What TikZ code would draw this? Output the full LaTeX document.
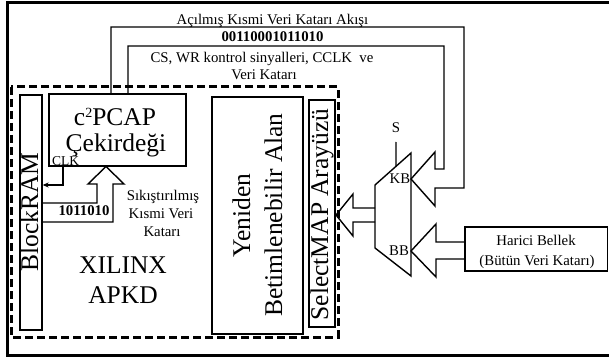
\documentclass[tikz,border=0pt]{standalone}
\usepackage{fontspec}
\setmainfont{Liberation Serif}
\usetikzlibrary{arrows.meta,calc}
\tikzset{
  big/.style={font=\fontsize{25.5}{30}\selectfont},
  small/.style={font=\fontsize{14.8}{18}\selectfont},
  wire/.style={line width=1.4pt, line join=miter},
  box/.style={draw, line width=1.3pt, inner sep=0pt},
}
\begin{document}
\begin{tikzpicture}[x=1pt,y=-1pt]
\useasboundingbox (0,0) rectangle (609,358);
% outer border
\draw[line width=3pt] (612,3) -- (7,3) -- (7,355) -- (612,355);
% dashed FPGA region
\draw[line width=3pt, dash pattern=on 8pt off 4pt] (11,87) rectangle (338,337);
% boxes
\node[box, minimum width=22pt, minimum height=235pt] (bram) at (31,212.5) {};
\node[box, minimum width=137pt, minimum height=72pt] (core) at (117.5,130) {};
\node[box, minimum width=91pt, minimum height=237pt] (rr) at (257.5,215.5) {};
\node[box, minimum width=26pt, minimum height=227pt] (smap) at (322,213.5) {};
\node[box, minimum width=142.5pt, minimum height=44pt] (mem) at (536.25,249) {};
% texts in boxes
\node[big, rotate=90, anchor=base] (tbram) at (38,212) {BlockRAM};
\node[big, anchor=base] (tc1) at (115,126) {c\raisebox{9pt}{\fontsize{14}{14}\selectfont 2}PCAP};
\node[big, anchor=base] (tc2) at (116,151) {Çekirdeği};
\node[big, rotate=90, anchor=base] (trr1) at (250,215.5) {Yeniden};
\node[big, rotate=90, anchor=base] (trr2) at (282,215) {Betimlenebilir Alan};
\node[big, rotate=90, anchor=base] (tsm) at (328,214.5) {SelectMAP Arayüzü};
\node[big, anchor=base] (tx1) at (123,273) {XILINX};
\node[big, anchor=base] (tx2) at (123,303) {APKD};
\node[small, anchor=base] (tm1) at (536,245) {Harici Bellek};
\node[small, anchor=base] (tm2) at (537,265) {(Bütün Veri Katarı)};
% top labels
\node[small, anchor=base] (l1) at (272.5,25) {Açılmış Kısmi Veri Katarı Akışı};
\node[small, anchor=base] (l2) at (272.5,42) {\bfseries 00110001011010};
\node[small, anchor=base] (l3) at (262,63) {CS, WR kontrol sinyalleri, CCLK\ \ ve};
\node[small, anchor=base] (l4) at (264,80) {Veri Katarı};
% compressed label
\node[small, anchor=base] (s1) at (163,200) {Sıkıştırılmış};
\node[small, anchor=base] (s2) at (161,218) {Kısmi Veri};
\node[small, anchor=base] (s3) at (162,236) {Katarı};
\node[small, anchor=base] (bits) at (84,215) {\bfseries 1011010};
\node[anchor=base west, inner sep=0pt, font=\fontsize{13.5}{15}\selectfont] (clk) at (52,165.5) {CLK};
% mux
\coordinate (m1) at (375,185);
\coordinate (m2) at (411,153);
\coordinate (m3) at (411,276);
\coordinate (m4) at (375,248);
\draw[wire] (m1) -- (m2) -- (m3) -- (m4) -- cycle;
\coordinate (sTop) at (396,142);
\coordinate (sBot) at ($(m1)!0.583!(m2)$);
\draw[wire] (sTop) -- (sBot);
\node[small, anchor=base] (S) at (396,133) {S};
\node[small, anchor=base] (KB) at (400,183) {KB};
\node[small, anchor=base] (BB) at (399,255) {BB};
% CLK arrow
\draw[wire, -{Stealth[length=6pt,width=5pt]}] (63,166) -- (63,185) -- (bram.east |- 0,185);
% compressed data block arrow
\draw[wire] (42,203) -- (97,203) -- (97,184) -- (88,184) -- (106,166.5) -- (124,184) -- (113,184) -- (113,222) -- (42,222);
% top wires into KB
\draw[wire] (111,94) -- (111,27) -- (464,27) -- (464,188) -- (435,188) -- (435,206) -- (411,179)
  -- (435,152) -- (435,169) -- (444,169) -- (444,46) -- (128,46) -- (128,94);
% BB arrow
\draw[wire] (465,242) -- (436,242) -- (436,224) -- (411,251) -- (436,277) -- (436,259) -- (465,259);
% output arrow
\draw[wire] (375,208) -- (353,208) -- (353,194) -- (336,215) -- (353,236) -- (353,222) -- (375,222);
\end{tikzpicture}
\end{document}
